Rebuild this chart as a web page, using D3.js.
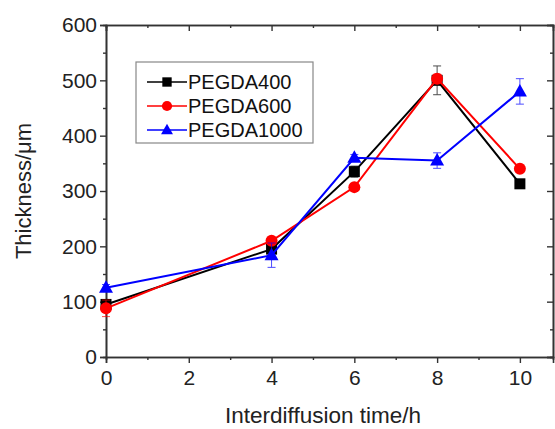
<!DOCTYPE html>
<html>
<head>
<meta charset="utf-8">
<script src="https://d3js.org/d3.v7.min.js"></script>
<style>
  body { margin: 0; background: #fff; }
  svg { display: block; font-family: Arial, "Liberation Sans", sans-serif; }
</style>
</head>
<body>
<svg id="chart" width="555" height="429"></svg>
<script>
// data
const times = [0, 4, 6, 8, 10];
const pegda400 = [95, 195, 335, 500, 313];
const pegda400Err = [8, 8, 10, 26, 6];
const pegda600 = [88, 210, 307, 503, 340];
const pegda600Err = [15, 6, 6, 8, 6];
const pegda1000 = [125, 184, 360, 355, 480];
const pegda1000Err = [6, 22, 6, 14, 23];
const seriesNames = ['PEGDA400', 'PEGDA600', 'PEGDA1000'];
const xTicks = [0, 2, 4, 6, 8, 10];
const yTicks = [0, 100, 200, 300, 400, 500, 600];

const series = [
  { name: seriesNames[0], values: pegda400, err: pegda400Err, color: '#000', shape: 'square' },
  { name: seriesNames[1], values: pegda600, err: pegda600Err, color: '#f00', shape: 'circle' },
  { name: seriesNames[2], values: pegda1000, err: pegda1000Err, color: '#00f', shape: 'triangle' }
];

const plotLeft = 106, plotRight = 553, plotTop = 25, plotBottom = 357;
const x = d3.scaleLinear().domain([0, 10.8]).range([plotLeft, plotRight]);
const y = d3.scaleLinear().domain([0, 600]).range([plotBottom, plotTop]);

const svg = d3.select('#chart');
const axisColor = '#333';

// axes
svg.append('g').attr('transform', `translate(0,${plotBottom})`)
  .call(d3.axisBottom(x).tickValues(xTicks).tickSize(6).tickPadding(7).tickFormat(d3.format('d')));
svg.append('g').attr('transform', `translate(${plotLeft},0)`)
  .call(d3.axisLeft(y).tickValues(yTicks).tickSize(6).tickPadding(3));
svg.append('g').attr('transform', `translate(0,${plotTop})`)
  .call(d3.axisTop(x).tickValues(xTicks).tickSize(-6).tickFormat(''));
svg.append('g').attr('transform', `translate(${plotRight},0)`)
  .call(d3.axisRight(y).tickValues(yTicks).tickSize(-6).tickFormat(''));

// minor ticks
const xMinor = [1, 3, 5, 7, 9];
const yMinor = [50, 150, 250, 350, 450, 550];
svg.append('g').attr('transform', `translate(0,${plotBottom})`)
  .call(d3.axisBottom(x).tickValues(xMinor).tickSize(3).tickFormat(''));
svg.append('g').attr('transform', `translate(${plotLeft},0)`)
  .call(d3.axisLeft(y).tickValues(yMinor).tickSize(3).tickFormat(''));
svg.append('g').attr('transform', `translate(0,${plotTop})`)
  .call(d3.axisTop(x).tickValues(xMinor).tickSize(-3).tickFormat(''));
svg.append('g').attr('transform', `translate(${plotRight},0)`)
  .call(d3.axisRight(y).tickValues(yMinor).tickSize(-3).tickFormat(''));

svg.selectAll('.domain').attr('stroke', axisColor).attr('stroke-width', 1.6);
svg.selectAll('.tick line').attr('stroke', axisColor).attr('stroke-width', 1.4);
svg.selectAll('.tick text').attr('fill', '#222').attr('font-size', 21);

// axis titles
svg.append('text')
  .attr('x', 323).attr('y', 423)
  .attr('text-anchor', 'middle')
  .attr('font-size', 22.5).attr('fill', '#222')
  .text('Interdiffusion time/h');
svg.append('text')
  .attr('transform', 'translate(31,191) rotate(-90)')
  .attr('text-anchor', 'middle')
  .attr('font-size', 22).attr('fill', '#222')
  .text('Thickness/\u03bcm');

function drawMarker(g, shape, color, cx, cy, k = 1) {
  if (shape === 'square') {
    g.append('rect').attr('x', cx - 5.5 * k).attr('y', cy - 5.5 * k)
      .attr('width', 11 * k).attr('height', 11 * k).attr('fill', color);
  } else if (shape === 'circle') {
    g.append('circle').attr('cx', cx).attr('cy', cy).attr('r', 6 * k).attr('fill', color);
  } else {
    g.append('path')
      .attr('d', `M${cx},${cy - 7.5 * k}L${cx + 7 * k},${cy + 5 * k}L${cx - 7 * k},${cy + 5 * k}Z`)
      .attr('fill', color);
  }
}

const line = d3.line().x(d => x(d.t)).y(d => y(d.v));

series.forEach(s => {
  const pts = times.map((t, i) => ({ t, v: s.values[i], e: s.err[i] }));
  const g = svg.append('g');

  // error bars
  pts.forEach(p => {
    const eb = g.append('g').attr('stroke', s.color).attr('stroke-width', 1).attr('opacity', 0.7);
    eb.append('line').attr('x1', x(p.t)).attr('x2', x(p.t)).attr('y1', y(p.v - p.e)).attr('y2', y(p.v + p.e));
    eb.append('line').attr('x1', x(p.t) - 4).attr('x2', x(p.t) + 4).attr('y1', y(p.v - p.e)).attr('y2', y(p.v - p.e));
    eb.append('line').attr('x1', x(p.t) - 4).attr('x2', x(p.t) + 4).attr('y1', y(p.v + p.e)).attr('y2', y(p.v + p.e));
  });

  g.append('path').datum(pts)
    .attr('d', line)
    .attr('fill', 'none')
    .attr('stroke', s.color)
    .attr('stroke-width', 2);

  pts.forEach(p => drawMarker(g, s.shape, s.color, x(p.t), y(p.v)));
});

// legend
const legend = svg.append('g');
legend.append('rect')
  .attr('x', 136).attr('y', 62).attr('width', 177).attr('height', 81)
  .attr('fill', '#fff').attr('stroke', '#888').attr('stroke-width', 1.2);
series.forEach((s, i) => {
  const ly = 82 + i * 24;
  legend.append('line').attr('x1', 147).attr('x2', 187).attr('y1', ly).attr('y2', ly)
    .attr('stroke', s.color).attr('stroke-width', 1.4);
  drawMarker(legend, s.shape, s.color, 167, ly, 0.85);
  legend.append('text')
    .attr('x', 188).attr('y', ly + 7)
    .attr('font-size', 20).attr('fill', '#111')
    .text(s.name);
});
</script>
</body>
</html>
